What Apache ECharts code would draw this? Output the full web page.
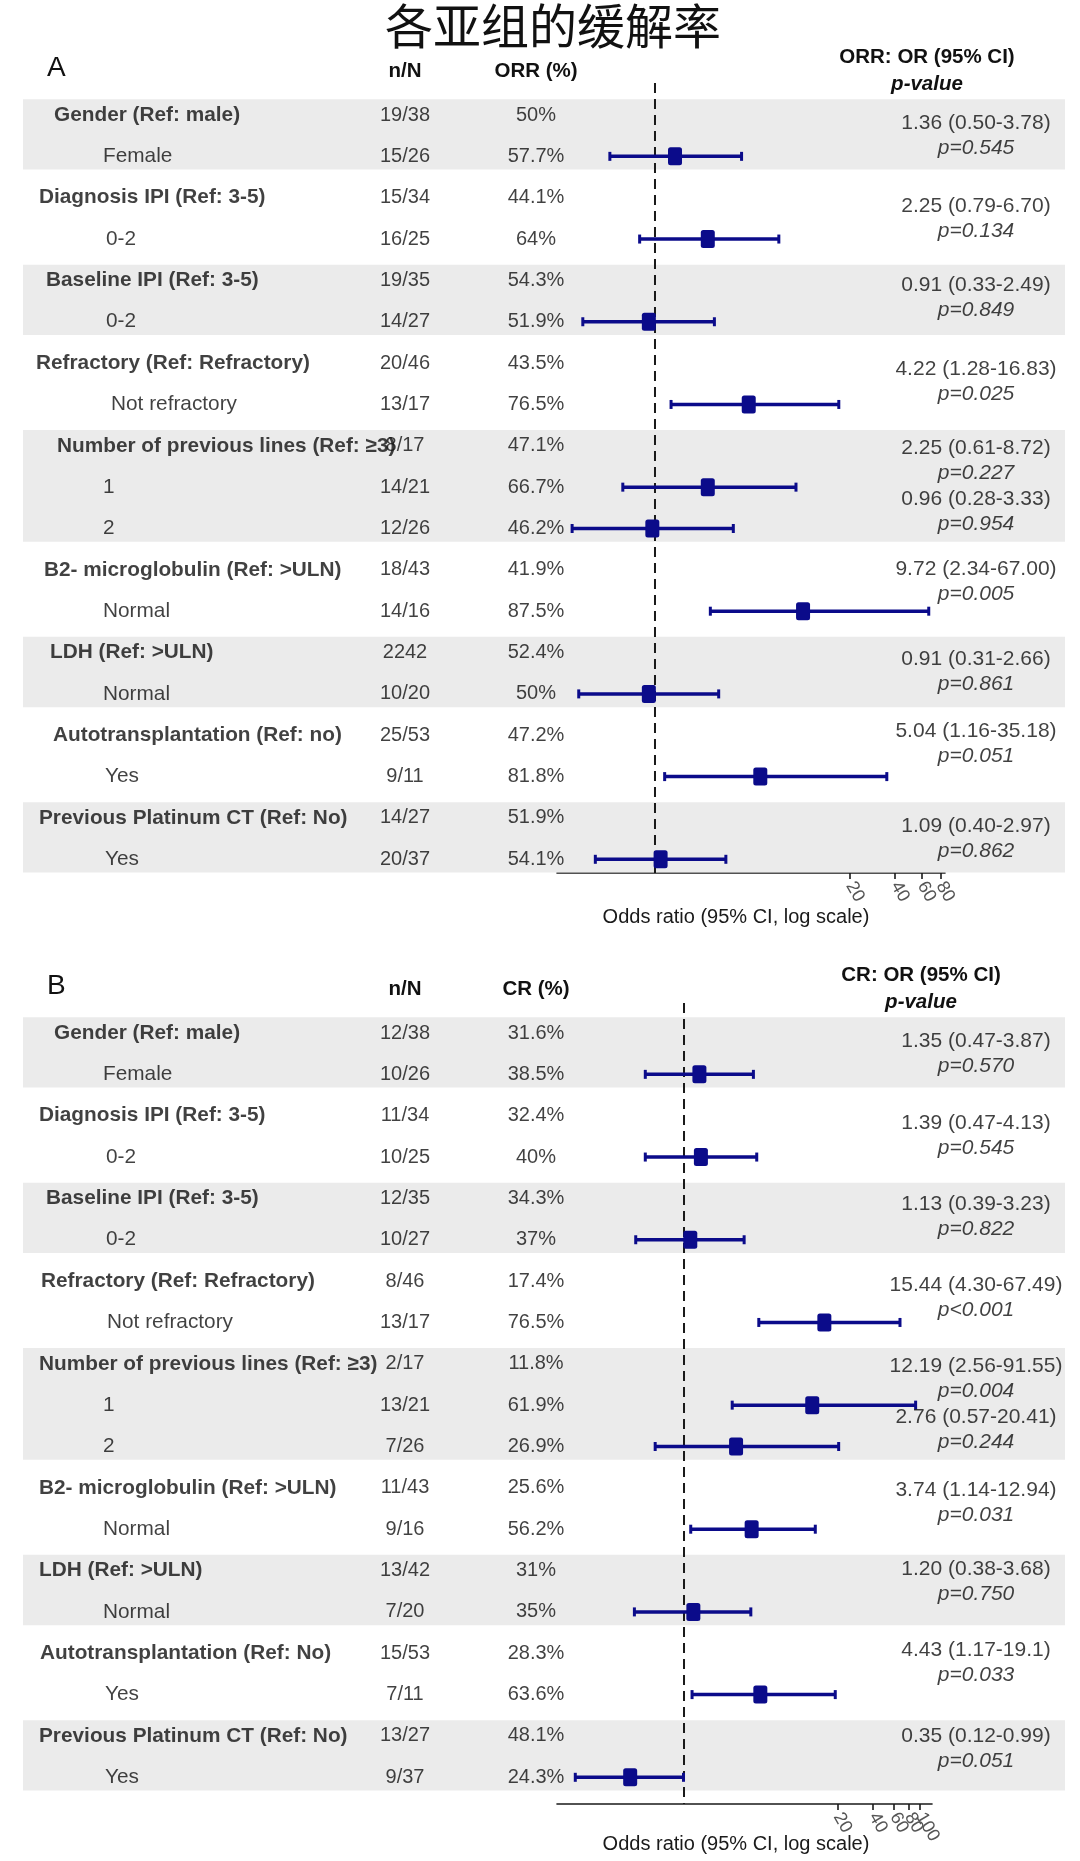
<!DOCTYPE html>
<html><head><meta charset="utf-8">
<script src="https://cdn.jsdelivr.net/npm/echarts@6/dist/echarts.min.js"></script>
<style>html,body{margin:0;padding:0;background:#fff}#c{width:1080px;height:1861px}</style>
</head><body><div id="c"></div>
<script>
// ---------------- DATA ----------------
const titleText = '各亚组的缓解率';
const panelLetters = ['A', 'B'];
const headA = ['n/N', 'ORR (%)', 'ORR: OR (95% CI)', 'p-value'];
const headB = ['n/N', 'CR (%)', 'CR: OR (95% CI)', 'p-value'];
const axisTitle = 'Odds ratio (95% CI, log scale)';
const groupSizes = [2, 2, 2, 2, 3, 2, 2, 2, 2];
const refOR = 1;

const labelsA = ['Gender (Ref: male)', 'Female', 'Diagnosis IPI (Ref: 3-5)', '0-2', 'Baseline IPI (Ref: 3-5)', '0-2',
  'Refractory (Ref: Refractory)', 'Not refractory', 'Number of previous lines (Ref: ≥3)', '1', '2',
  'B2- microglobulin (Ref: >ULN)', 'Normal', 'LDH (Ref: >ULN)', 'Normal', 'Autotransplantation (Ref: no)', 'Yes',
  'Previous Platinum CT (Ref: No)', 'Yes'];
const nNA = ['19/38', '15/26', '15/34', '16/25', '19/35', '14/27', '20/46', '13/17', '8/17', '14/21', '12/26',
  '18/43', '14/16', '2242', '10/20', '25/53', '9/11', '14/27', '20/37'];
const pctA = ['50%', '57.7%', '44.1%', '64%', '54.3%', '51.9%', '43.5%', '76.5%', '47.1%', '66.7%', '46.2%',
  '41.9%', '87.5%', '52.4%', '50%', '47.2%', '81.8%', '51.9%', '54.1%'];
const orA = [1.36, 2.25, 0.91, 4.22, 2.25, 0.96, 9.72, 0.91, 5.04, 1.09];
const loA = [0.50, 0.79, 0.33, 1.28, 0.61, 0.28, 2.34, 0.31, 1.16, 0.40];
const hiA = [3.78, 6.70, 2.49, 16.83, 8.72, 3.33, 67.00, 2.66, 35.18, 2.97];
const ciTextA = ['1.36 (0.50-3.78)', '2.25 (0.79-6.70)', '0.91 (0.33-2.49)', '4.22 (1.28-16.83)', '2.25 (0.61-8.72)',
  '0.96 (0.28-3.33)', '9.72 (2.34-67.00)', '0.91 (0.31-2.66)', '5.04 (1.16-35.18)', '1.09 (0.40-2.97)'];
const pA = ['p=0.545', 'p=0.134', 'p=0.849', 'p=0.025', 'p=0.227', 'p=0.954', 'p=0.005', 'p=0.861', 'p=0.051', 'p=0.862'];
const ticksA = [20, 40, 60, 80];

const labelsB = ['Gender (Ref: male)', 'Female', 'Diagnosis IPI (Ref: 3-5)', '0-2', 'Baseline IPI (Ref: 3-5)', '0-2',
  'Refractory (Ref: Refractory)', 'Not refractory', 'Number of previous lines (Ref: ≥3)', '1', '2',
  'B2- microglobulin (Ref: >ULN)', 'Normal', 'LDH (Ref: >ULN)', 'Normal', 'Autotransplantation (Ref: No)', 'Yes',
  'Previous Platinum CT (Ref: No)', 'Yes'];
const nNB = ['12/38', '10/26', '11/34', '10/25', '12/35', '10/27', '8/46', '13/17', '2/17', '13/21', '7/26',
  '11/43', '9/16', '13/42', '7/20', '15/53', '7/11', '13/27', '9/37'];
const pctB = ['31.6%', '38.5%', '32.4%', '40%', '34.3%', '37%', '17.4%', '76.5%', '11.8%', '61.9%', '26.9%',
  '25.6%', '56.2%', '31%', '35%', '28.3%', '63.6%', '48.1%', '24.3%'];
const orB = [1.35, 1.39, 1.13, 15.44, 12.19, 2.76, 3.74, 1.20, 4.43, 0.35];
const loB = [0.47, 0.47, 0.39, 4.30, 2.56, 0.57, 1.14, 0.38, 1.17, 0.12];
const hiB = [3.87, 4.13, 3.23, 67.49, 91.55, 20.41, 12.94, 3.68, 19.1, 0.99];
const ciTextB = ['1.35 (0.47-3.87)', '1.39 (0.47-4.13)', '1.13 (0.39-3.23)', '15.44 (4.30-67.49)', '12.19 (2.56-91.55)',
  '2.76 (0.57-20.41)', '3.74 (1.14-12.94)', '1.20 (0.38-3.68)', '4.43 (1.17-19.1)', '0.35 (0.12-0.99)'];
const pB = ['p=0.570', 'p=0.545', 'p=0.822', 'p<0.001', 'p=0.004', 'p=0.244', 'p=0.031', 'p=0.750', 'p=0.033', 'p=0.051'];
const ticksB = [20, 40, 60, 80, 100];

// ---------------- LAYOUT / STYLE ----------------
const FONT = '"Liberation Sans", Arial, Helvetica, sans-serif';
const ROW_STEP = 41.35;
const COL_NN = 405, COL_PCT = 536, COL_CI = 976;
const NAVY = '#0b0b8a';
const layout = [
  { top: 83, bottom: 873, row0: 115, plotL: 557, plotR: 945, min: 0.222, max: 86,
    labelX: [54, 103, 39, 106, 46, 106, 36, 111, 57, 103, 103, 44, 103, 50, 103, 53, 105, 39, 105],
    ciShift: [0, 0, -3, -2, -6, 4, -9, -2, -12, 0],
    letterY: 68, colHeadY: 71, orHeadY: 57, pHeadY: 84, orHeadX: 927, nameShift: 30, nameGap: 34 },
  { top: 1003, bottom: 1804, row0: 1033, plotL: 557, plotR: 932, min: 0.084, max: 126,
    labelX: [54, 103, 39, 106, 46, 106, 41, 107, 39, 103, 103, 39, 103, 39, 103, 40, 105, 39, 105],
    ciShift: [0, -1, -2, -4, -6, 4, -6, -10, -11, -8],
    letterY: 986, colHeadY: 989, orHeadY: 975, pHeadY: 1002, orHeadX: 921, nameShift: 17, nameGap: 30 }
];

const panels = [
  { letter: panelLetters[0], head: headA, labels: labelsA, nN: nNA, pct: pctA, or: orA, lo: loA, hi: hiA, ci: ciTextA, p: pA, ticks: ticksA },
  { letter: panelLetters[1], head: headB, labels: labelsB, nN: nNB, pct: pctB, or: orB, lo: loB, hi: hiB, ci: ciTextB, p: pB, ticks: ticksB }
];

// group structure
const headerRows = [], subRows = [], groups = [];
(function () {
  let r = 0;
  groupSizes.forEach(s => {
    headerRows.push(r);
    groups.push([r, r + s - 1]);
    for (let k = 1; k < s; k++) subRows.push(r + k);
    r += s;
  });
})();

const grids = [], xAxes = [], yAxes = [], series = [], graphics = [];

panels.forEach((P, k) => {
  const L = layout[k];
  const yMin = (L.top - L.row0) / ROW_STEP, yMax = (L.bottom - L.row0) / ROW_STEP;
  const gT = grids.length, gP = gT + 1;
  grids.push({ left: 0, width: 1080, top: L.top, height: L.bottom - L.top, outerBoundsMode: 'none', containLabel: false });
  grids.push({ left: L.plotL, width: L.plotR - L.plotL, top: L.top, height: L.bottom - L.top, outerBoundsMode: 'none', containLabel: false });

  const yT = yAxes.length, yP = yT + 1;
  const yAx = { type: 'value', inverse: true, min: yMin, max: yMax, show: false };
  yAxes.push(Object.assign({ gridIndex: gT }, yAx));
  yAxes.push(Object.assign({ gridIndex: gP }, yAx));

  const xT = xAxes.length;
  xAxes.push({ gridIndex: gT, type: 'value', min: 0, max: 1080, show: false });
  const xP = xAxes.length;
  // one bottom axis per tick value (so no tick label is auto-hidden for overlapping)
  P.ticks.forEach((t, ti) => {
    const tv = [Math.log10(t)];
    const ax = {
      gridIndex: gP, type: 'value', position: 'bottom',
      min: Math.log10(L.min), max: Math.log10(L.max),
      axisLine: { show: ti === 0, onZero: false, lineStyle: { color: '#1a1a1a', width: 1.6 } },
      axisTick: { show: true, customValues: tv, length: 6, lineStyle: { color: '#1a1a1a', width: 1.6 } },
      axisLabel: { show: true, customValues: tv, formatter: v => String(Math.round(Math.pow(10, v))),
        rotate: -60, color: '#555', fontSize: 18, margin: 10, fontFamily: FONT },
      splitLine: { show: false }
    };
    if (ti === 0) {
      Object.assign(ax, { name: axisTitle, nameLocation: 'middle', nameGap: L.nameGap, nameMoveOverlap: false,
        nameTextStyle: { fontSize: 20, color: '#1a1a1a', fontFamily: FONT, padding: [0, L.nameShift, 0, 0] } });
    }
    xAxes.push(ax);
  });

  // shaded bands
  const bands = [];
  groups.forEach((g, gi) => {
    if (gi % 2 === 0) bands.push([{ xAxis: 23, yAxis: g[0] - 0.38 }, { xAxis: 1065, yAxis: g[1] + 0.32 }]);
  });
  series.push({
    type: 'scatter', xAxisIndex: xT, yAxisIndex: yT, symbolSize: 0, silent: true, z: 1,
    data: [[0, 0]],
    markArea: { silent: true, itemStyle: { color: '#ebebeb' }, data: bands }
  });

  // table text
  const textData = [];
  P.labels.forEach((t, i) => {
    const hdr = headerRows.indexOf(i) >= 0;
    textData.push({ name: t, value: [L.labelX[i], i], label: { align: 'left', fontWeight: hdr ? 'bold' : 'normal' } });
    textData.push({ name: P.nN[i], value: [COL_NN, i], label: { align: 'center', fontSize: 20 } });
    textData.push({ name: P.pct[i], value: [COL_PCT, i], label: { align: 'center', fontSize: 20 } });
  });
  subRows.forEach((r, j) => {
    const s = L.ciShift[j];
    textData.push({ name: P.ci[j], value: [COL_CI, r - 0.5], label: { align: 'center', fontSize: 21, offset: [0, -12.5 + s] } });
    textData.push({ name: P.p[j], value: [COL_CI, r - 0.5], label: { align: 'center', fontSize: 21, offset: [0, 12.5 + s], fontStyle: 'italic' } });
  });
  series.push({
    type: 'scatter', xAxisIndex: xT, yAxisIndex: yT, symbolSize: 0, silent: true, z: 6, clip: false,
    itemStyle: { color: 'transparent' },
    label: { show: true, position: 'inside', formatter: '{b}', color: '#111', fontSize: 20.8,
      fontFamily: FONT, verticalAlign: 'middle' },
    data: textData
  });

  // reference dashed line at OR = 1
  series.push({
    type: 'line', xAxisIndex: xP, yAxisIndex: yP, symbol: 'none', silent: true, z: 3,
    data: [[Math.log10(refOR), yMin], [Math.log10(refOR), yMax]],
    lineStyle: { color: '#1a1a1a', width: 2, type: [10, 6] }
  });

  // forest marks
  const ciData = subRows.map((r, j) => [Math.log10(P.or[j]), Math.log10(P.lo[j]), Math.log10(P.hi[j]), r]);
  series.push({
    type: 'custom', xAxisIndex: xP, yAxisIndex: yP, silent: true, z: 4,
    encode: { x: [0, 1, 2], y: 3 },
    data: ciData,
    renderItem: function (params, api) {
      const y = api.value(3);
      const c = api.coord([api.value(0), y]);
      const l = api.coord([api.value(1), y]);
      const h = api.coord([api.value(2), y]);
      return {
        type: 'group', children: [
          { type: 'line', shape: { x1: l[0], y1: l[1], x2: h[0], y2: h[1] }, style: { stroke: NAVY, lineWidth: 3.5 } },
          { type: 'line', shape: { x1: l[0], y1: l[1] - 4.5, x2: l[0], y2: l[1] + 4.5 }, style: { stroke: NAVY, lineWidth: 3 } },
          { type: 'line', shape: { x1: h[0], y1: h[1] - 4.5, x2: h[0], y2: h[1] + 4.5 }, style: { stroke: NAVY, lineWidth: 3 } },
          { type: 'rect', shape: { x: c[0] - 7, y: c[1] - 9, width: 14, height: 18, r: 2.5 }, style: { fill: NAVY } }
        ]
      };
    }
  });

  // column headers
  const txt = (text, x, y, align, font) => ({ type: 'text', x: x, y: y, silent: true,
    style: { text: text, fill: '#111', font: font, align: align, verticalAlign: 'middle' } });
  graphics.push(txt(P.letter, 47, L.letterY, 'left', 'normal 28px ' + FONT));
  graphics.push(txt(P.head[0], COL_NN, L.colHeadY, 'center', 'bold 20.5px ' + FONT));
  graphics.push(txt(P.head[1], COL_PCT, L.colHeadY, 'center', 'bold 20.5px ' + FONT));
  graphics.push(txt(P.head[2], L.orHeadX, L.orHeadY, 'center', 'bold 20.5px ' + FONT));
  graphics.push(txt(P.head[3], L.orHeadX, L.pHeadY, 'center', 'italic bold 20.5px ' + FONT));
});

const chart = echarts.init(document.getElementById('c'), null, { renderer: 'canvas' });
chart.setOption({
  animation: false,
  backgroundColor: '#ffffff',
  title: { text: titleText, left: 385, top: 2, padding: 0,
    textStyle: { fontFamily: '"Noto Sans CJK SC", sans-serif', fontSize: 48, fontWeight: 'normal', color: '#111' } },
  grid: grids, xAxis: xAxes, yAxis: yAxes, series: series, graphic: graphics
});
</script></body></html>
